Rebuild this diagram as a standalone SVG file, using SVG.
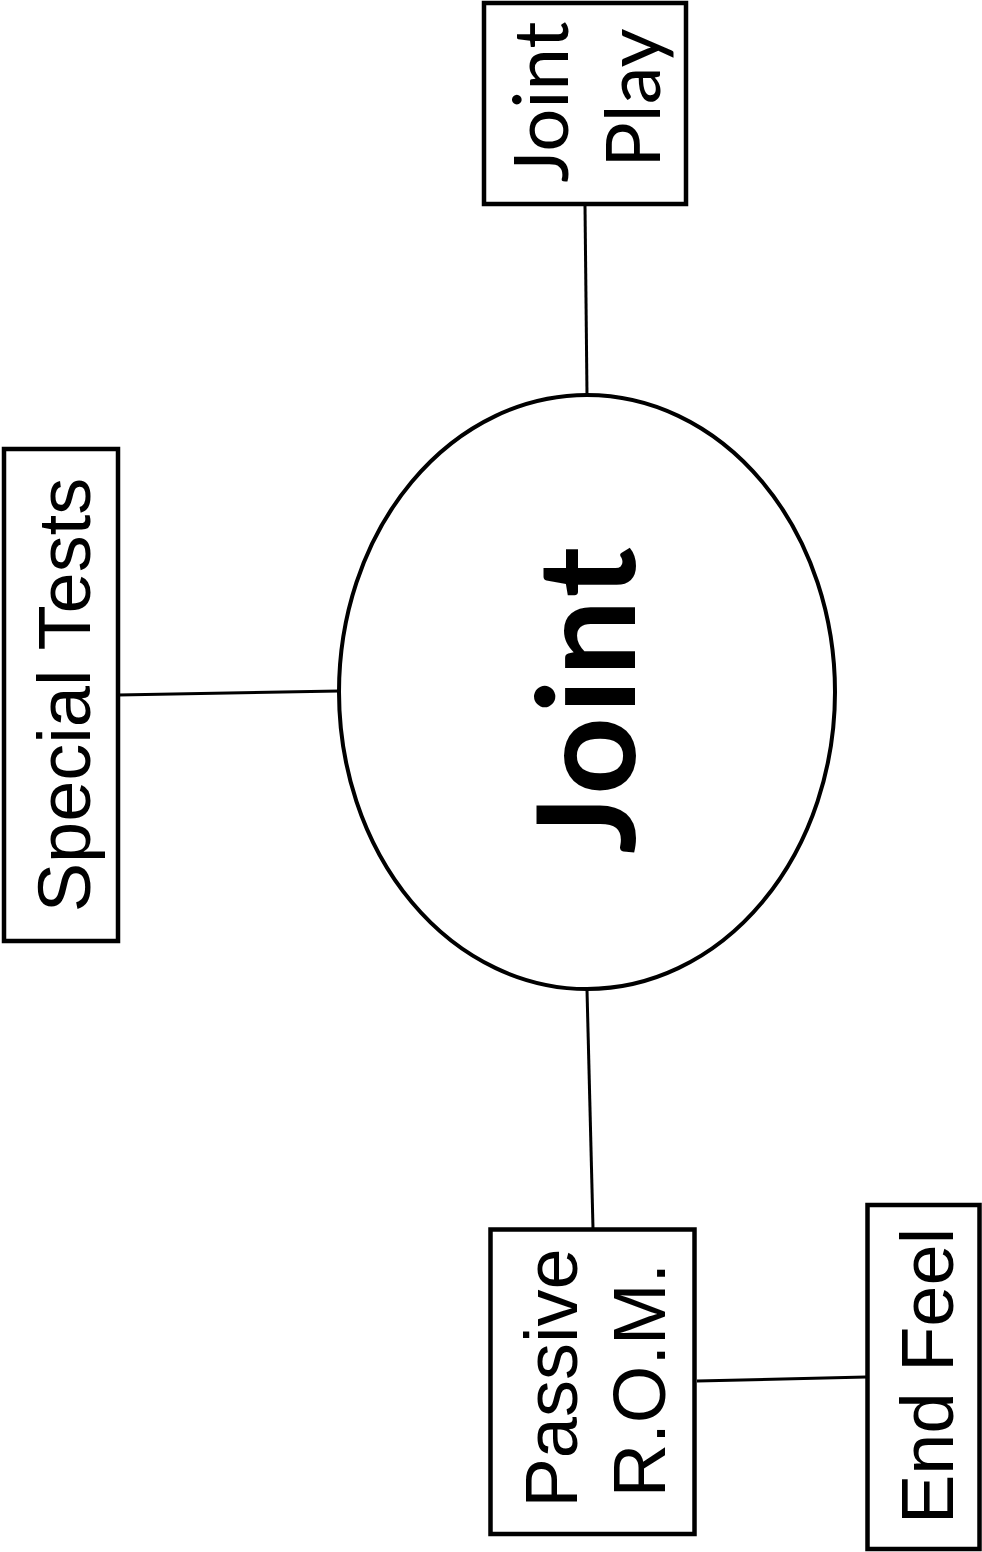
<svg xmlns="http://www.w3.org/2000/svg" width="982" height="1552" viewBox="0 0 982 1552">
<style>
.box{fill:#fff;stroke:#000;stroke-width:4.5}
.conn line{stroke:#000;stroke-width:3}
.lbl{font-family:"Liberation Sans",Arial,sans-serif;font-size:74px;fill:#000;text-anchor:middle}
.lbl2{font-family:Lato,"Open Sans",sans-serif;font-size:76px;fill:#000;text-anchor:middle}
.big{font-family:Lato,"Open Sans",sans-serif;font-weight:bold;font-size:136px;letter-spacing:3px;fill:#000;text-anchor:middle}
</style>
<rect width="982" height="1552" fill="#fff"/>
<g id="connectors" class="conn">
<line x1="585" y1="205" x2="587" y2="395"/>
<line x1="118" y1="695" x2="339" y2="691"/>
<line x1="587" y1="990" x2="593" y2="1228"/>
<line x1="697" y1="1381" x2="866" y2="1377"/>
</g>
<g id="joint">
<ellipse cx="587" cy="692" rx="248" ry="297" fill="#fff" stroke="#000" stroke-width="4"/>
<text class="big" transform="translate(635 699) rotate(-90)">Joint</text>
</g>
<g id="joint-play">
<rect class="box" x="484" y="3" width="202" height="201"/>
<text class="lbl2" transform="translate(568 102) rotate(-90)">Joint</text>
<text class="lbl2" transform="translate(660 98) rotate(-90)">Play</text>
</g>
<g id="special-tests">
<rect class="box" x="4" y="449" width="114" height="492"/>
<text class="lbl" transform="translate(90 695) rotate(-90)">Special Tests</text>
</g>
<g id="passive-rom">
<rect class="box" x="490.5" y="1229.5" width="204" height="304.5"/>
<text class="lbl" transform="translate(577 1378) rotate(-90)">Passive</text>
<text class="lbl" transform="translate(665 1380) rotate(-90)">R.O.M.</text>
</g>
<g id="end-feel">
<rect class="box" x="867.5" y="1205" width="112" height="344"/>
<text class="lbl" transform="translate(953 1376) rotate(-90)">End Feel</text>
</g>
</svg>
